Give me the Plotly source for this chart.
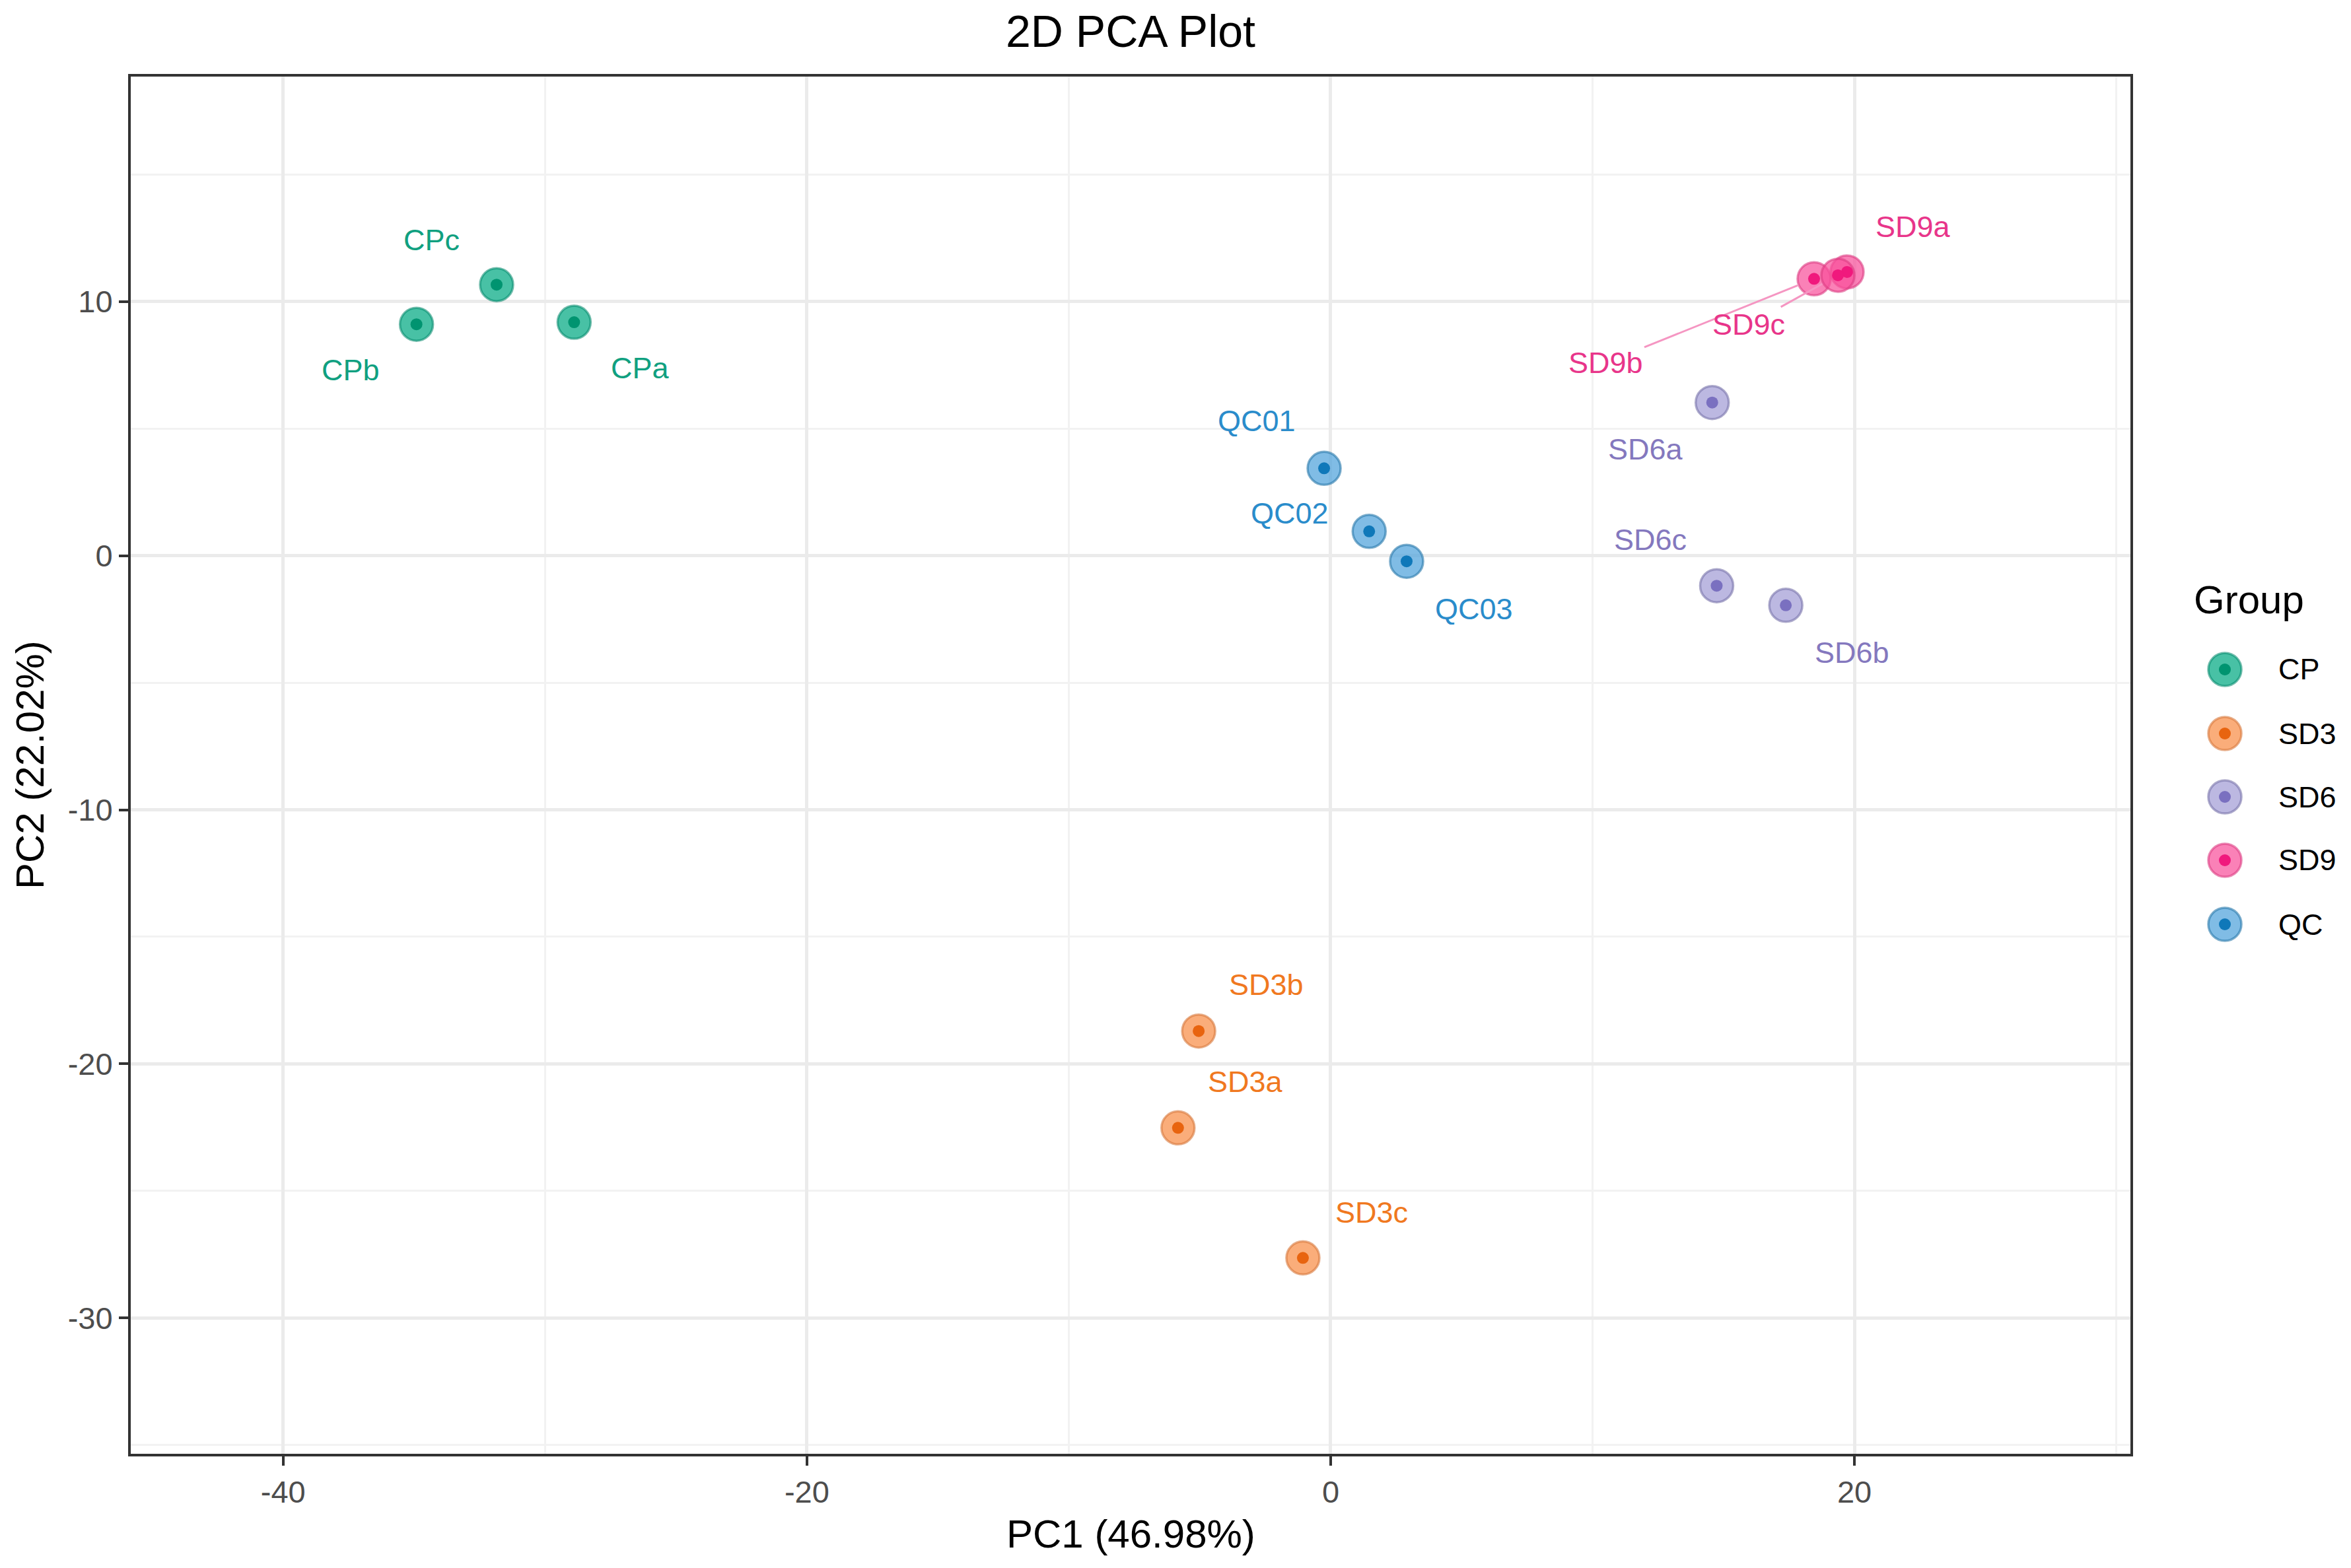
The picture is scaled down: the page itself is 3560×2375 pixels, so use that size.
import plotly.graph_objects as go

# ---------------- data ----------------
samples = ["CPa", "CPb", "CPc", "SD3a", "SD3b", "SD3c", "SD6a", "SD6b", "SD6c",
           "SD9a", "SD9b", "SD9c", "QC01", "QC02", "QC03"]
groups = ["CP", "CP", "CP", "SD3", "SD3", "SD3", "SD6", "SD6", "SD6",
          "SD9", "SD9", "SD9", "QC", "QC", "QC"]
pc1 = [-28.89, -34.91, -31.85, -5.83, -5.04, -1.06, 14.57, 17.38, 14.74,
       19.72, 18.46, 19.37, -0.25, 1.47, 2.90]
pc2 = [9.19, 9.11, 10.67, -22.52, -18.71, -27.64, 6.03, -1.95, -1.18,
       11.17, 10.90, 11.04, 3.44, 0.96, -0.22]
group_order = ["CP", "SD3", "SD6", "SD9", "QC"]
x_ticks = [-40, -20, 0, 20]
y_ticks = [-30, -20, -10, 0, 10]
title_text = "2D PCA Plot"
x_title = "PC1 (46.98%)"
y_title = "PC2 (22.02%)"
legend_title = "Group"

# ---------------- styles ----------------
FONT = "Liberation Sans, Arial, Helvetica, sans-serif"
style = {
    "CP":  dict(fill="rgba(20,176,140,0.78)", line="rgba(0,135,105,0.55)", dot="rgb(0,148,112)", text="#10A080"),
    "SD3": dict(fill="rgba(248,150,85,0.78)", line="rgba(215,120,60,0.60)", dot="rgb(232,100,15)", text="#F07820"),
    "SD6": dict(fill="rgba(165,160,215,0.75)", line="rgba(120,115,170,0.60)", dot="rgb(122,112,192)", text="#8478BE"),
    "SD9": dict(fill="rgba(248,80,155,0.72)", line="rgba(220,60,130,0.60)", dot="rgb(240,25,125)", text="#E8358A"),
    "QC":  dict(fill="rgba(85,165,220,0.75)", line="rgba(40,120,170,0.60)", dot="rgb(15,120,185)", text="#2A8CCB"),
}
# label offsets from the point (px right, px down)
label_offset = {
    "CPa": (100, 69), "CPb": (-100, 69), "CPc": (-98, -68),
    "SD3a": (102, -70), "SD3b": (102, -70), "SD3c": (104, -69),
    "SD6a": (-101, 71), "SD6b": (100, 72), "SD6c": (-100, -70),
    "SD9a": (100, -68), "SD9b": (-315, 127), "SD9c": (-135, 75),
    "QC01": (-102, -72), "QC02": (-120, -27), "QC03": (102, 72),
}
with_segment = {"SD9b", "SD9c"}

# page body has an 8px margin: work in page pixels, shift by OFF
OFF = 8
W, H = 3560 - 2 * OFF, 2375 - 2 * OFF
PL, PR, PT, PB = 198, 3226, 116, 2202          # plot box in page pixels
ML, MT = PL - OFF, PT - OFF
MR, MB = (W + OFF) - PR, (H + OFF) - PB
PW, PH = PR - PL, PB - PT


def px_x(p):
    return (p - PL) / PW


def px_y(p):
    return (PB - p) / PH


fig = go.Figure()

for g in group_order:
    idx = [i for i, gg in enumerate(groups) if gg == g]
    xs = [pc1[i] for i in idx]
    ys = [pc2[i] for i in idx]
    st = style[g]
    fig.add_trace(go.Scatter(
        x=xs, y=ys, mode="markers", name=g, showlegend=False, hoverinfo="skip",
        marker=dict(size=50, color=st["fill"], line=dict(color=st["line"], width=3.5)),
    ))
    fig.add_trace(go.Scatter(
        x=xs, y=ys, mode="markers", name=g, showlegend=False,
        text=[samples[i] for i in idx],
        marker=dict(size=18, color=st["dot"], line=dict(width=0)),
    ))

annotations = []
for s, g, x, y in zip(samples, groups, pc1, pc2):
    dx, dy = label_offset[s]
    st = style[g]
    if s in with_segment:
        annotations.append(dict(
            x=x, y=y, xref="x", yref="y", text=s, showarrow=True,
            ax=dx, ay=dy, axref="pixel", ayref="pixel",
            arrowhead=0, arrowwidth=3, arrowcolor="#F596C2", standoff=27,
            font=dict(family=FONT, size=45, color=st["text"]),
        ))
    else:
        annotations.append(dict(
            x=x, y=y, xref="x", yref="y", text=s, showarrow=False,
            xshift=dx, yshift=-dy, xanchor="center", yanchor="middle",
            font=dict(family=FONT, size=45, color=st["text"]),
        ))

# axis titles
annotations.append(dict(
    x=0.5, y=0, xref="paper", yref="paper", text=x_title, showarrow=False,
    yshift=-(2323 - PB), yanchor="middle", xanchor="center",
    font=dict(family=FONT, size=60, color="#000000"),
))
annotations.append(dict(
    x=0, y=0.5, xref="paper", yref="paper", text=y_title, showarrow=False,
    xshift=-(PL - 45), xanchor="center", yanchor="middle", textangle=-90,
    font=dict(family=FONT, size=60, color="#000000"),
))

# manual legend
shapes = []
legend_x = 3369
legend_rows = [1014, 1111, 1207, 1303, 1400]
annotations.append(dict(
    x=px_x(3320), y=px_y(909), xref="paper", yref="paper", text=legend_title,
    showarrow=False, xanchor="left", yanchor="middle",
    font=dict(family=FONT, size=60, color="#000000"),
))
for g, ry in zip(group_order, legend_rows):
    st = style[g]
    shapes.append(dict(
        type="circle", xref="paper", yref="paper", xsizemode="pixel", ysizemode="pixel",
        xanchor=px_x(legend_x), yanchor=px_y(ry), x0=-25, x1=25, y0=-25, y1=25,
        fillcolor=st["fill"], line=dict(color=st["line"], width=3.5), layer="above",
    ))
    shapes.append(dict(
        type="circle", xref="paper", yref="paper", xsizemode="pixel", ysizemode="pixel",
        xanchor=px_x(legend_x), yanchor=px_y(ry), x0=-9, x1=9, y0=-9, y1=9,
        fillcolor=st["dot"], line=dict(width=0), layer="above",
    ))
    annotations.append(dict(
        x=px_x(3448), y=px_y(ry), xref="paper", yref="paper", text=g,
        showarrow=False, xanchor="left", yanchor="middle",
        font=dict(family=FONT, size=45, color="#000000"),
    ))

axis_common = dict(
    showline=True, mirror=True, linecolor="#333333", linewidth=4,
    ticks="outside", ticklen=14, tickwidth=4, tickcolor="#333333",
    showgrid=True, gridcolor="#EBEBEB", gridwidth=4.5, zeroline=False,
    tickfont=dict(family=FONT, size=47, color="#4D4D4D"),
)

fig.update_layout(
    width=W, height=H,
    margin=dict(l=ML, r=MR, t=MT, b=MB),
    paper_bgcolor="white", plot_bgcolor="white",
    title=dict(text=title_text, x=0.5, xref="paper", xanchor="center",
               y=1 - (47 - OFF) / H, yref="container", yanchor="middle",
               font=dict(family=FONT, size=68, color="#000000")),
    xaxis=dict(range=[-45.82, 30.54], tickvals=x_ticks, ticktext=[str(v) for v in x_ticks],
               minor=dict(dtick=10, tick0=-30, showgrid=True, gridcolor="#F2F2F2", gridwidth=2.5, ticks=""),
               **axis_common),
    yaxis=dict(range=[-35.35, 18.86], tickvals=y_ticks, ticktext=[str(v) for v in y_ticks],
               minor=dict(dtick=10, tick0=-35, showgrid=True, gridcolor="#F2F2F2", gridwidth=2.5, ticks=""),
               **axis_common),
    annotations=annotations,
    shapes=shapes,
    showlegend=False,
)

fig.write_html("out.html")
